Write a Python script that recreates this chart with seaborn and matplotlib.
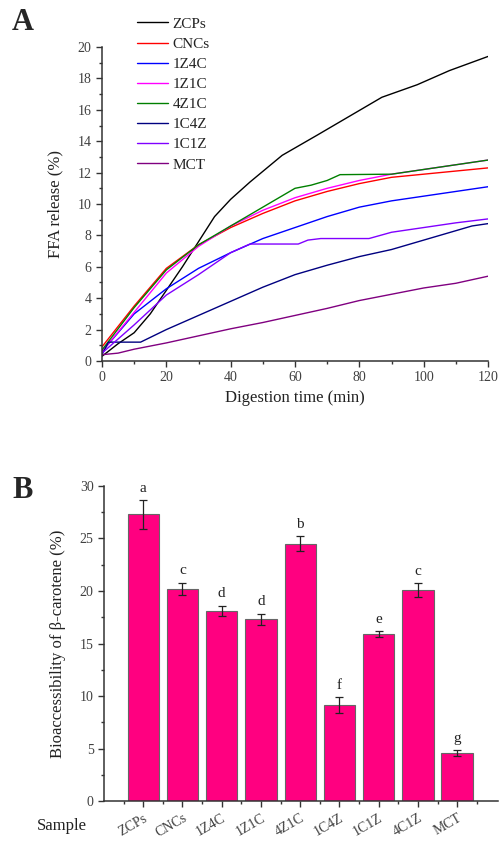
import numpy as np
import pandas as pd
import seaborn as sns
import matplotlib.pyplot as plt
from matplotlib.ticker import MultipleLocator

sns.set_style("ticks")
plt.rcParams['font.family'] = ['Liberation Serif', 'DejaVu Serif']

# ---- panel A: FFA release curves ----
t_zcps = [0, 5, 10, 15, 20, 25, 30, 35, 40, 46, 56, 67, 77, 87, 98, 108, 120]
v_zcps = [0.3, 1.1, 1.8, 3.0, 4.5, 6.0, 7.6, 9.2, 10.3, 11.4, 13.1, 14.4, 15.6, 16.8, 17.6, 18.5, 19.4]
t_cncs = [0, 10, 20, 30, 40, 50, 60, 70, 80, 90, 100, 110, 120]
v_cncs = [0.9, 3.5, 5.9, 7.4, 8.5, 9.4, 10.2, 10.8, 11.3, 11.7, 11.9, 12.1, 12.3]
t_1z4c = [0, 10, 20, 30, 40, 50, 60, 70, 80, 90, 100, 110, 120]
v_1z4c = [0.6, 3.0, 4.6, 5.9, 6.9, 7.8, 8.5, 9.2, 9.8, 10.2, 10.5, 10.8, 11.1]
t_1z1c = [0, 10, 20, 30, 40, 50, 60, 70, 80, 90, 100, 110, 120]
v_1z1c = [0.6, 3.1, 5.6, 7.3, 8.6, 9.6, 10.4, 11.0, 11.5, 11.9, 12.2, 12.5, 12.8]
t_4z1c = [0, 10, 20, 30, 40, 50, 60, 65, 70, 74, 90, 100, 110, 120]
v_4z1c = [0.7, 3.4, 5.8, 7.4, 8.6, 9.8, 11.0, 11.2, 11.5, 11.87, 11.9, 12.2, 12.5, 12.8]
t_1c4z = [0, 2, 12, 20, 30, 40, 50, 60, 70, 80, 90, 100, 110, 115, 120]
v_1c4z = [0.4, 1.2, 1.2, 2.0, 2.9, 3.8, 4.7, 5.5, 6.1, 6.65, 7.1, 7.7, 8.3, 8.6, 8.75]
t_1c1z = [0, 10, 20, 30, 40, 46, 61, 64, 68, 83, 90, 100, 110, 120]
v_1c1z = [0.5, 2.3, 4.2, 5.5, 6.9, 7.45, 7.45, 7.7, 7.8, 7.8, 8.2, 8.5, 8.8, 9.05]
t_mct = [0, 5, 10, 20, 30, 40, 50, 60, 70, 80, 90, 100, 110, 120]
v_mct = [0.4, 0.5, 0.75, 1.15, 1.6, 2.05, 2.45, 2.9, 3.35, 3.85, 4.25, 4.65, 4.95, 5.4]

series = [("ZCPs", t_zcps, v_zcps), ("CNCs", t_cncs, v_cncs), ("1Z4C", t_1z4c, v_1z4c),
          ("1Z1C", t_1z1c, v_1z1c), ("4Z1C", t_4z1c, v_4z1c), ("1C4Z", t_1c4z, v_1c4z),
          ("1C1Z", t_1c1z, v_1c1z), ("MCT", t_mct, v_mct)]
line_colors = ["black", "red", "blue", "#ff00ff", "green", "#000080", "#8000ff", "#800080"]

# ---- panel B: bioaccessibility ----
samples = ["ZCPs", "CNCs", "1Z4C", "1Z1C", "4Z1C", "1C4Z", "1C1Z", "4C1Z", "MCT"]
bioacc = [27.3, 20.2, 18.1, 17.3, 24.5, 9.15, 15.9, 20.1, 4.55]
bioacc_err = [1.35, 0.6, 0.5, 0.55, 0.7, 0.75, 0.25, 0.65, 0.3]
letters = ["a", "c", "d", "d", "b", "f", "e", "c", "g"]

df_a = pd.concat([pd.DataFrame({"time": t, "ffa": v, "sample": n}) for n, t, v in series])
df_b = pd.DataFrame({"sample": samples, "bio": bioacc, "err": bioacc_err})

fig = plt.figure(figsize=(4.99, 8.43), dpi=100)
tc = "#404040"

ax1 = fig.add_axes([0.2044, 0.5718, 0.7736, 0.3724])
sns.lineplot(data=df_a, x="time", y="ffa", hue="sample", palette=line_colors,
             linewidth=1.0, ax=ax1, legend=True)
ax1.set_xlim(0, 120)
ax1.set_ylim(0, 20)
ax1.xaxis.set_major_locator(MultipleLocator(20))
ax1.xaxis.set_minor_locator(MultipleLocator(10))
ax1.yaxis.set_major_locator(MultipleLocator(2))
ax1.yaxis.set_minor_locator(MultipleLocator(1))
ax1.set_xlabel("Digestion time (min)", fontsize=12, color="#222222")
ax1.set_ylabel("FFA release (%)", fontsize=12, color="#222222", labelpad=10)
leg = ax1.legend(loc="upper left", bbox_to_anchor=(0.263, 0.987), bbox_transform=fig.transFigure,
                 frameon=False, fontsize=11, handlelength=2.0, handletextpad=0.3,
                 labelspacing=0.42, borderaxespad=0)
for txt in leg.get_texts():
    txt.set_color("#222222")

ax2 = fig.add_axes([0.2084, 0.0498, 0.7896, 0.3737])
sns.barplot(data=df_b, x="sample", y="bio", color="#ff0080", saturation=1, width=0.8,
            edgecolor="#666666", linewidth=0.8, ax=ax2)
ax2.errorbar(np.arange(len(samples)), df_b["bio"], yerr=df_b["err"], fmt="none",
             ecolor="#222222", elinewidth=0.9, capsize=3, capthick=0.9)
for i, (v, e, l) in enumerate(zip(bioacc, bioacc_err, letters)):
    ax2.text(i, v + e + 0.5, l, ha="center", va="bottom", fontsize=11, color="#222222")
ax2.set_xlim(-1, 9.04)
ax2.set_ylim(0, 30)
ax2.yaxis.set_major_locator(MultipleLocator(5))
ax2.yaxis.set_minor_locator(MultipleLocator(2.5))
ax2.set_xticks(np.arange(-0.5, 9, 1), minor=True)
ax2.set_xticks(range(len(samples)))
ax2.set_xticklabels(samples, rotation=30, ha="right", rotation_mode="anchor", fontsize=10)
ax2.set_xlabel("")
ax2.set_ylabel("Bioaccessibility of β-carotene (%)", fontsize=12, color="#222222", labelpad=10)

for ax in (ax1, ax2):
    sns.despine(ax=ax)
    for s in ("left", "bottom"):
        ax.spines[s].set_color("#333333")
        ax.spines[s].set_linewidth(1.1)
    ax.tick_params(which="major", direction="out", length=4, width=1, colors="#333333",
                   labelcolor=tc, labelsize=10)
    ax.tick_params(which="minor", direction="out", length=2.5, width=1, colors="#333333")

fig.text(12 / 499, 1 - 22 / 843, "A", fontsize=22, fontweight="bold", ha="left", va="center")
fig.text(12 / 499, 1 - 490 / 843, "B", fontsize=22, fontweight="bold", ha="left", va="center")
fig.text(62 / 499, 1 - 826 / 843, "Sample", fontsize=12, ha="center", va="center", color="#222222")

fig.savefig("out.png", dpi=100)
